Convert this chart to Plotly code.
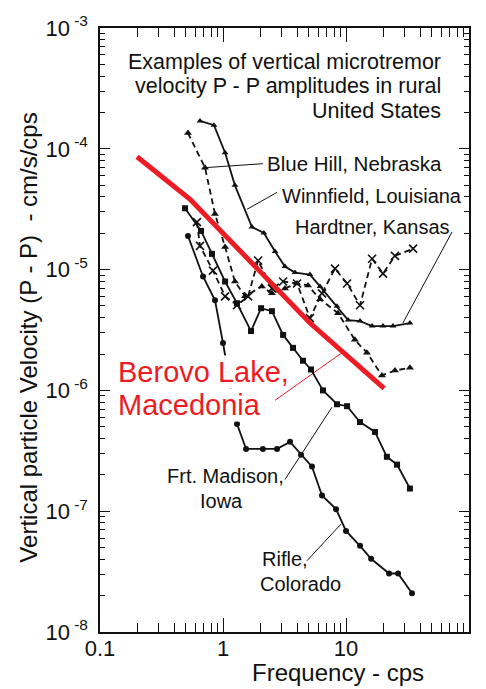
import math
import plotly.graph_objects as go

# Frequency (cps) and vertical P-P velocity (cm/s/cps) for each site
winnfield_f = [0.65, 0.845, 1.04, 1.25, 1.72, 2.15, 2.65, 3.19, 3.85, 5.09, 6.15, 8.45, 10.4, 13.0, 16.3, 20.0, 24.1, 33.1]
winnfield_v = [1.70e-4, 1.57e-4, 9.27e-5, 4.98e-5, 2.25e-5, 2.01e-5, 1.41e-5, 1.06e-5, 9.45e-6, 9.1e-6,
               7.26e-6, 4.98e-6, 3.82e-6, 3.75e-6, 3.41e-6, 3.41e-6, 3.41e-6, 3.61e-6]

bluehill_f = [0.519, 0.714, 0.861, 1.04, 1.25, 1.51, 2.07, 2.5, 3.19, 4.0, 4.91, 6.15, 8.61, 11.8, 14.8, 19.6, 25.0, 33.1]
bluehill_v = [1.35e-4, 6.98e-5, 2.88e-5, 1.54e-5, 7.97e-6, 6.01e-6, 7.26e-6, 6.36e-6, 6.99e-6, 7.68e-6,
              7.40e-6, 5.68e-6, 4.36e-6, 2.62e-6, 2.05e-6, 1.33e-6, 1.46e-6, 1.54e-6]

hardtner_f = [0.614, 0.65, 0.829, 1.04, 1.30, 1.60, 1.93, 2.5, 3.08, 4.0, 5.09, 6.38, 8.14, 10.2, 13.0, 16.3, 20.0, 25.0, 35.1]
hardtner_v = [2.47e-5, 1.57e-5, 9.8e-6, 6.01e-6, 5.07e-6, 6.01e-6, 1.19e-5, 6.99e-6, 7.97e-6, 7.68e-6,
              3.97e-6, 6.36e-6, 1.02e-5, 7.68e-6, 5.07e-6, 1.23e-5, 9.27e-6, 1.30e-5, 1.49e-5]

madison_f = [0.491, 0.663, 0.814, 1.04, 1.30, 1.69, 2.04, 2.5, 3.08, 3.71, 4.47, 5.19, 6.5, 8.45, 10.2, 13.0, 17.2, 21.5, 26.0, 33.1]
madison_v = [3.22e-5, 2.09e-5, 1.35e-5, 7.97e-6, 5.26e-6, 3.10e-6, 4.79e-6, 4.53e-6, 2.88e-6, 2.25e-6,
             1.76e-6, 1.49e-6, 1.0e-6, 7.68e-7, 7.40e-7, 5.47e-7, 4.53e-7, 2.82e-7, 2.43e-7, 1.54e-7]

rifle_f = [0.519, 0.688, 0.861, 1.0, 1.30, 1.54, 2.11, 2.75, 3.51, 4.31, 5.29, 6.38, 8.30, 10.0, 13.0, 16.0, 22.4, 26.5, 34.4]
rifle_v = [1.90e-5, 8.77e-6, 5.57e-6, 2.47e-6, 5.26e-7, 3.28e-7, 3.28e-7, 3.28e-7, 3.75e-7, 2.93e-7,
           2.34e-7, 1.35e-7, 1.04e-7, 6.86e-8, 5.17e-8, 4.04e-8, 3.05e-8, 3.05e-8, 2.09e-8]

berovo_f = [0.2, 0.54, 5.1, 20.4]
berovo_v = [8.6e-5, 3.82e-5, 3.61e-6, 1.04e-6]

x_ticks = [0.1, 1, 10, 100]
x_tick_labels = ["0.1", "1", "10", "100"]
y_exponents = [-8, -7, -6, -5, -4, -3]

title_lines = ["Examples of vertical microtremor",
               "velocity P - P amplitudes in rural",
               "United States"]

# Leader lines from site labels to their curves: ((f0, v0), (f1, v1))
leaders = [
    ((2.11, 7.53e-5), (0.714, 6.98e-5)),   # Blue Hill
    ((2.75, 4.36e-5), (1.57, 3.16e-5)),    # Winnfield
    ((72.8, 2.05e-5), (29.0, 3.61e-6)),    # Hardtner
    ((3.19, 1.83e-7), (7.69, 7.26e-7)),    # Frt. Madison
    ((4.82, 3.89e-8), (9.1, 7.82e-8)),     # Rifle
]
berovo_leader = ((2.65, 8.28e-7), (9.27, 2.05e-6))

FONT = "Arial, Liberation Sans, sans-serif"
RED = "#ed1c24"
INK = "#111111"

fig = go.Figure()

for (a, b) in leaders:
    fig.add_trace(go.Scatter(x=[a[0], b[0]], y=[a[1], b[1]], mode="lines",
                             line=dict(color=INK, width=1), hoverinfo="skip"))
fig.add_trace(go.Scatter(x=[berovo_leader[0][0], berovo_leader[1][0]],
                         y=[berovo_leader[0][1], berovo_leader[1][1]], mode="lines",
                         line=dict(color=RED, width=1), hoverinfo="skip"))

series = [
    (winnfield_f, winnfield_v, "solid", "triangle-up", 6),
    (bluehill_f, bluehill_v, "6px,4px", "triangle-up", 7),
    (hardtner_f, hardtner_v, "6px,4px", "x-thin", 8),
    (madison_f, madison_v, "solid", "square", 6),
    (rifle_f, rifle_v, "solid", "circle", 6),
]
for f, v, dash, sym, size in series:
    fig.add_trace(go.Scatter(
        x=f, y=v, mode="lines+markers",
        line=dict(color=INK, width=1.8, dash=dash),
        marker=dict(symbol=sym, size=size, color=INK,
                    line=dict(color=INK, width=1.6 if sym == "x-thin" else 0)),
    ))

fig.add_trace(go.Scatter(x=berovo_f, y=berovo_v, mode="lines",
                         line=dict(color=RED, width=5)))


def note(text, f, v, size, xanchor="left", color=INK, **kw):
    fig.add_annotation(text=text, x=math.log10(f), y=math.log10(v), xref="x", yref="y",
                       showarrow=False, xanchor=xanchor, yanchor="middle",
                       font=dict(family=FONT, size=size, color=color), **kw)


note("Blue Hill, Nebraska", 2.19, 7.5e-5, 20.5)
note("Winnfield, Louisiana", 2.9, 4.05e-5, 20)
note("Hardtner, Kansas", 3.71, 2.25e-5, 20)
note("Berovo Lake,", 0.1375, 1.41e-6, 29, color=RED, bgcolor="white", borderpad=0)
note("Macedonia", 0.1375, 7.53e-7, 29, color=RED, bgcolor="white", borderpad=0)
note("Frt. Madison,", 0.337, 1.94e-7, 20)
note("Iowa", 0.964, 1.21e-7, 20, xanchor="center")
note("Rifle,", 2.0, 4.05e-8, 20)
note("Colorado", 1.93, 2.52e-8, 20)

# Caption block, right-aligned, one annotation per line
for i, line in enumerate(title_lines):
    fig.add_annotation(text=line, x=(443 - 100) / 369, y=1 - (56 + 25 * i - 22) / 610,
                       xref="paper", yref="paper", showarrow=False,
                       xanchor="right", yanchor="middle",
                       font=dict(family=FONT, size=21.5, color=INK))

fig.add_annotation(text="Frequency - cps", x=0.645, y=-0.067, xref="paper", yref="paper",
                   showarrow=False, xanchor="center", yanchor="middle",
                   font=dict(family=FONT, size=24, color=INK))
fig.add_annotation(text="Vertical particle Velocity (P - P)  - cm/s/cps", x=-0.193, y=0.487,
                   xref="paper", yref="paper", showarrow=False, textangle=-90,
                   xanchor="center", yanchor="middle",
                   font=dict(family=FONT, size=24, color=INK))

axis_common = dict(type="log", showline=True, linecolor=INK, linewidth=1.5, mirror="ticks",
                   ticks="inside", tickcolor=INK, tickwidth=1.2, showgrid=False, zeroline=False,
                   tickfont=dict(family=FONT, size=22, color=INK))

fig.update_xaxes(range=[-1, 2], tickmode="array", tickvals=x_ticks, ticktext=x_tick_labels,
                 ticklen=14, ticklabelstandoff=-4,
                 minor=dict(ticks="inside", ticklen=9, dtick="D1", tickcolor=INK, tickwidth=1.2,
                            showgrid=False),
                 **axis_common)
fig.update_yaxes(range=[-8, -3], tickmode="array", tickvals=[10.0 ** e for e in y_exponents],
                 ticktext=[f"10<sup> {e}</sup>" for e in y_exponents],
                 ticklen=10, ticklabelstandoff=6,
                 minor=dict(ticks="inside", ticklen=5, dtick="D1", tickcolor=INK, tickwidth=1.2,
                            showgrid=False),
                 **axis_common)

fig.update_layout(width=486, height=689, margin=dict(l=100, r=17, t=22, b=57),
                  paper_bgcolor="white", plot_bgcolor="white", showlegend=False,
                  font=dict(family=FONT, color=INK))

fig.write_html("out.html")
